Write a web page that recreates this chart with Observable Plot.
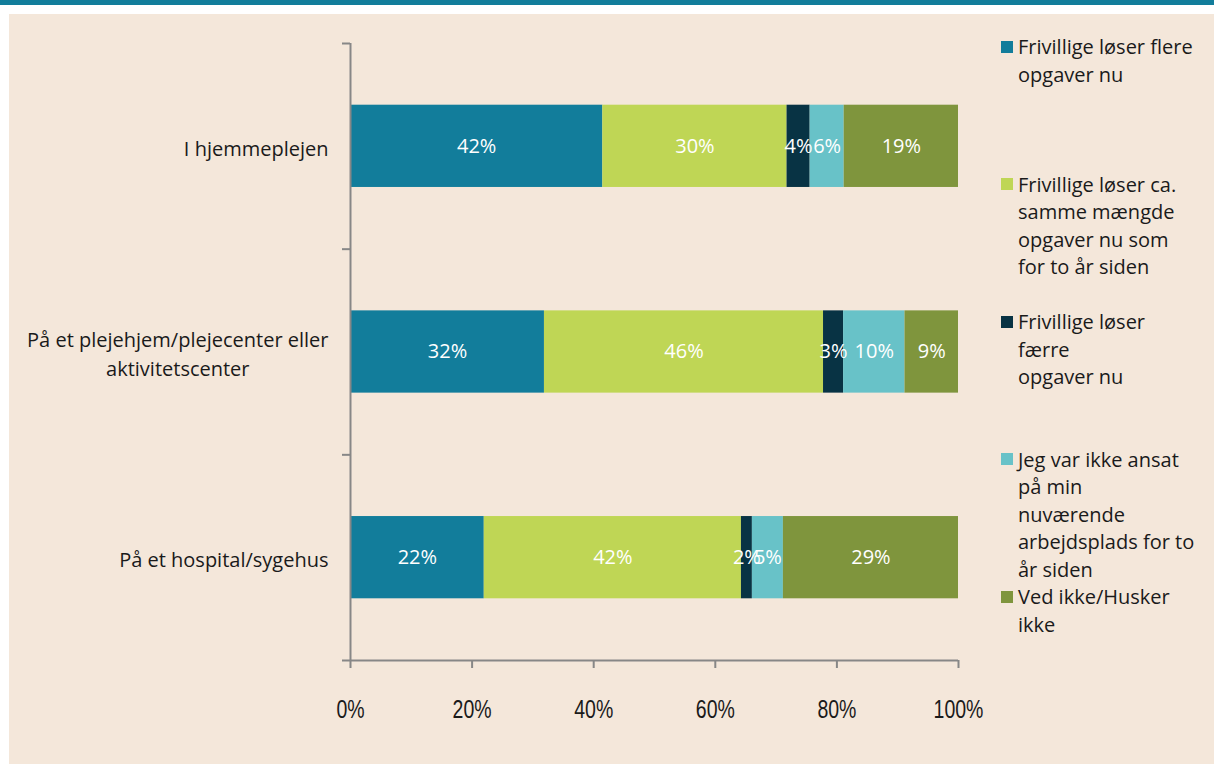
<!DOCTYPE html>
<html><head><meta charset="utf-8">
<script src="https://cdn.jsdelivr.net/npm/d3@7"></script>
<script src="https://cdn.jsdelivr.net/npm/@observablehq/plot@0.6"></script>
<style>
body{margin:0;background:#fff;width:1214px;height:764px;overflow:hidden;font-family:"Open Sans",sans-serif;}
#topbar{position:absolute;left:0;top:0;width:1214px;height:5px;background:#127d9b;}
#panel{position:absolute;left:9px;top:14px;width:1205px;height:750px;background:#f4e7da;}
#chart{position:absolute;left:0;top:0;}
#legend{position:absolute;left:992px;top:19px;width:215px;}
.item{height:137.5px;display:flex;align-items:flex-start;}
.sw{width:12px;height:12px;margin-top:7.75px;margin-right:5px;flex:none;}
.lab{white-space:pre;line-height:27.5px;font-size:20px;color:#1a1a1a;}
</style>
</head><body>
<div id="topbar"></div>
<div id="panel"><div id="chart"></div><div id="legend"></div></div>
<script>
const categories = ["I hjemmeplejen", "På et plejehjem/plejecenter eller\naktivitetscenter", "På et hospital/sygehus"];
const seriesNames = [
  "Frivillige løser flere\nopgaver nu",
  "Frivillige løser ca.\nsamme mængde\nopgaver nu som\nfor to år siden",
  "Frivillige løser\nfærre\nopgaver nu",
  "Jeg var ikke ansat\npå min\nnuværende\narbejdsplads for to\når siden",
  "Ved ikke/Husker\nikke"
];
const seriesColors = ["#127d9b", "#bfd655", "#083344", "#68c2c8", "#7f953d"];
const valuesFlere = [41.5, 31.9, 22.0];
const valuesSamme = [30.3, 45.9, 42.3];
const valuesFaerre = [3.8, 3.3, 1.8];
const valuesIkkeAnsat = [5.6, 10.1, 5.1];
const valuesVedIkke = [18.8, 8.8, 28.8];
const xTicks = [0, 20, 40, 60, 80, 100];

const seriesValues = [valuesFlere, valuesSamme, valuesFaerre, valuesIkkeAnsat, valuesVedIkke];
const rows = [];
categories.forEach((c, i) => {
  let acc = 0;
  seriesNames.forEach((s, k) => {
    const v = seriesValues[k][i];
    rows.push({cat: c, i, series: s, value: v, x1: acc, x2: acc + v});
    acc += v;
  });
});

const labelFont = "20px 'Open Sans'";
const canvas = document.createElement("canvas");
const ctx = canvas.getContext("2d");
ctx.font = labelFont;
const measure = (t) => Math.max(...t.split("\n").map(l => ctx.measureText(l).width));

const grey = "#878787";
const chart = Plot.plot({
  width: 980, height: 720,
  marginLeft: 341, marginRight: 31, marginTop: 29, marginBottom: 74,
  style: {background: "transparent", fontFamily: "'Open Sans', sans-serif", overflow: "visible"},
  x: {domain: [0, 100]},
  y: {domain: [0, 3], reverse: true},
  color: {domain: seriesNames, range: seriesColors},
  marks: [
    Plot.rect(rows, {x1: "x1", x2: "x2", y1: d => d.i + 0.3, y2: d => d.i + 0.7, fill: "series"}),
    Plot.text(rows, {x: d => (d.x1 + d.x2) / 2, y: d => d.i + 0.5, text: d => Math.round(d.value) + "%", fill: "white", fontSize: 20}),
    Plot.ruleX([0], {stroke: grey, strokeWidth: 2}),
    Plot.ruleY([3], {stroke: grey, strokeWidth: 2}),
    Plot.axisY([0, 1, 2, 3], {tickSize: 8, tickFormat: () => "", stroke: grey, strokeWidth: 2, strokeOpacity: 1}),
    Plot.axisX(xTicks, {tickSize: 8, tickPadding: 32, tickFormat: d => d + "%", stroke: grey, strokeWidth: 2, strokeOpacity: 1, fill: "#1a1a1a", fontSize: 25, fontFamily: "'Liberation Sans Narrow', 'Liberation Sans', sans-serif"}),
    ...categories.map((c, i) => Plot.text([c], {x: 0, y: i + 0.5, text: d => d, textAnchor: "middle", dx: -(22 + measure(c) / 2), fontSize: 20, lineHeight: 1.45, fill: "#1a1a1a"}))
  ]
});
// narrow the x tick labels horizontally, like the condensed face of the original
chart.querySelectorAll('g[aria-label="x-axis tick label"] text').forEach(t => {
  const tr = t.getAttribute("transform") || "";
  t.setAttribute("transform", tr + " scale(0.78,1)");
});
document.getElementById("chart").appendChild(chart);

const legend = document.getElementById("legend");
seriesNames.forEach((s, k) => {
  const it = document.createElement("div"); it.className = "item";
  const sw = document.createElement("div"); sw.className = "sw"; sw.style.background = seriesColors[k];
  const lab = document.createElement("div"); lab.className = "lab"; lab.textContent = s;
  it.appendChild(sw); it.appendChild(lab); legend.appendChild(it);
});
</script>
</body></html>
